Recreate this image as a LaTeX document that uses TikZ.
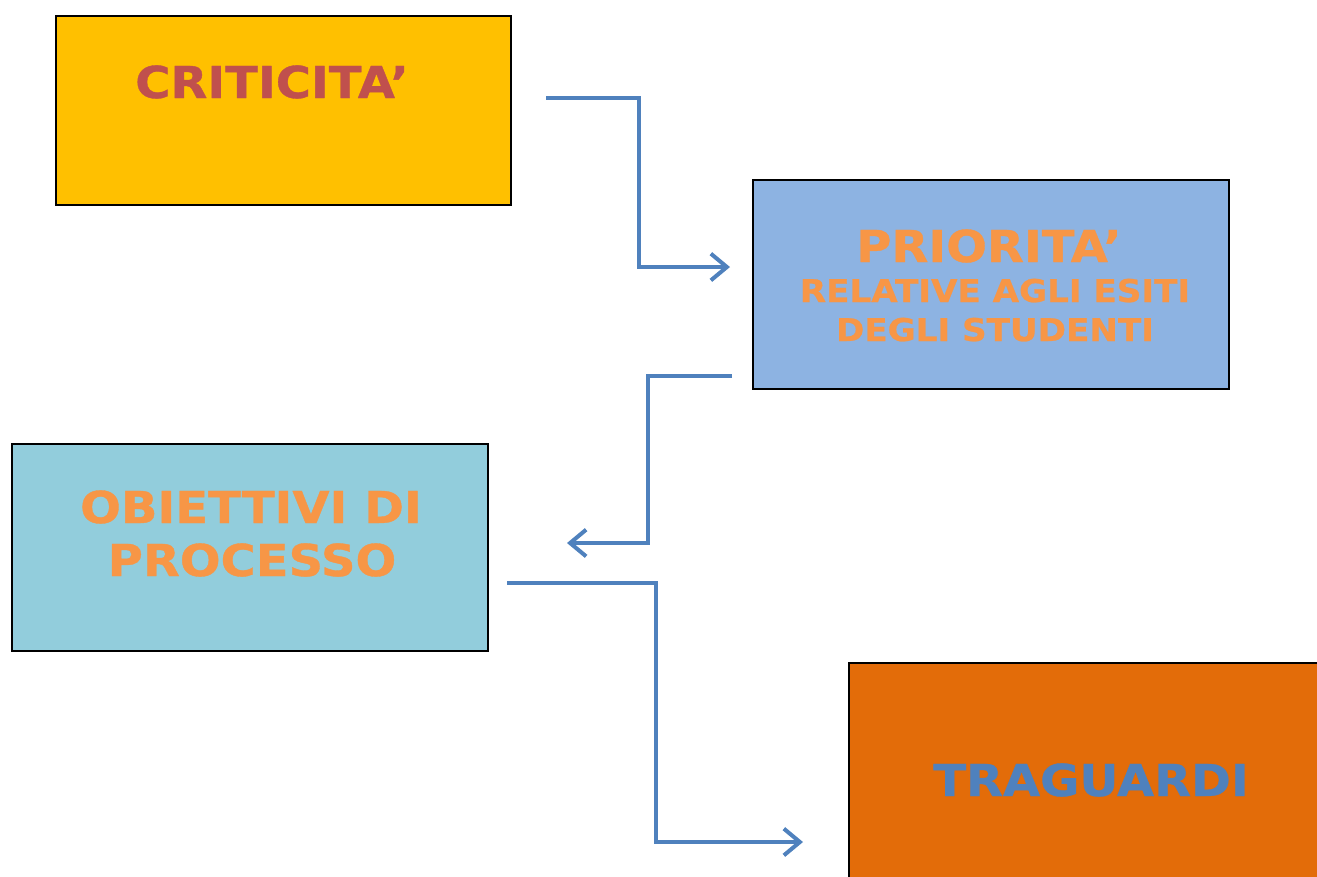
\documentclass[tikz,border=0pt]{standalone}
\usepackage{fontspec}
\newfontfamily\vfont[FakeStretch=1.09,FakeBold=0.8]{DejaVu Sans Bold}
\usetikzlibrary{arrows.meta}
\definecolor{critfill}{HTML}{FFC000}
\definecolor{crittext}{HTML}{C0504D}
\definecolor{priofill}{HTML}{8DB3E2}
\definecolor{orangetext}{HTML}{F79646}
\definecolor{obiefill}{HTML}{92CDDC}
\definecolor{tragfill}{HTML}{E36C09}
\definecolor{arrowblue}{HTML}{4F81BD}
\begin{document}
\begin{tikzpicture}[x=0.75pt,y=-0.75pt,
  box/.style={draw=black,line width=1.5pt,inner sep=0pt,anchor=north west},
  bigtxt/.style={anchor=base,inner sep=0pt,font=\vfont\fontsize{33}{40}\selectfont},
  smalltxt/.style={anchor=base,inner sep=0pt,font=\vfont\fontsize{23.5}{30}\selectfont},
  conn/.style={draw=arrowblue,line width=3pt,-{Straight Barb[length=12pt,width=20pt]}}]
\useasboundingbox (0,0) rectangle (1317,876);
\clip (0,0) rectangle (1317,876);
% boxes
\node[box,fill=critfill,minimum width=341.25pt,minimum height=141.75pt] (crit) at (55,15) {};
\node[box,fill=priofill,minimum width=357pt,minimum height=156.75pt] (prio) at (752,179) {};
\node[box,fill=obiefill,minimum width=357pt,minimum height=155.25pt] (obie) at (11,443) {};
\node[box,fill=tragfill,minimum width=375pt,minimum height=187.5pt] (trag) at (848,662) {};
% texts
\node[bigtxt,text=crittext] (critT) at (272,98) {CRITICITA’};
\node[bigtxt,text=orangetext] (prioT1) at (989,262) {PRIORITA’};
\node[smalltxt,text=orangetext] (prioT2) at (995,302) {RELATIVE AGLI ESITI};
\node[smalltxt,text=orangetext] (prioT3) at (995,341) {DEGLI STUDENTI};
\node[bigtxt,text=orangetext] (obieT1) at (251,523) {OBIETTIVI DI};
\node[bigtxt,text=orangetext] (obieT2) at (252,576) {PROCESSO};
\node[bigtxt,text=arrowblue] (tragT) at (1091,796) {TRAGUARDI};
% connectors
\coordinate (c1s) at (546,98);
\coordinate (c1m) at (639,267);
\coordinate (c1e) at (730,267);
\coordinate (c2s) at (732,376);
\coordinate (c2m) at (648,543);
\coordinate (c2e) at (567,543);
\coordinate (c3s) at (507,583);
\coordinate (c3m) at (656,842);
\coordinate (c3e) at (803,842);
\draw[conn] (c1s) -| (c1m) -- (c1e);
\draw[conn] (c2s) -| (c2m) -- (c2e);
\draw[conn] (c3s) -| (c3m) -- (c3e);
\end{tikzpicture}
\end{document}
